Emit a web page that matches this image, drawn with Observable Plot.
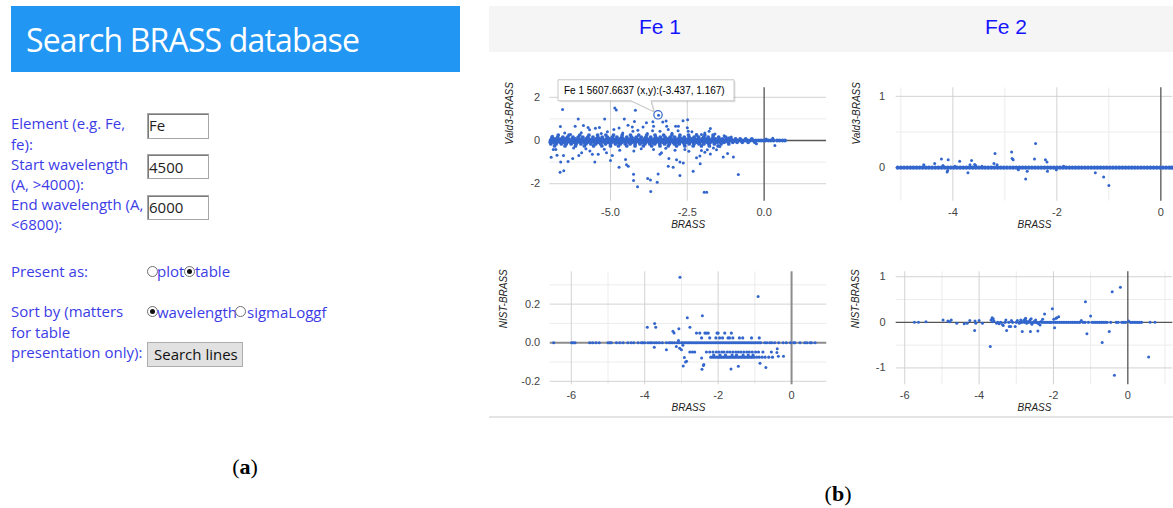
<!DOCTYPE html>
<html>
<head>
<meta charset="utf-8">
<script src="https://cdn.jsdelivr.net/npm/d3@7"></script>
<script src="https://cdn.jsdelivr.net/npm/@observablehq/plot@0.6"></script>
<style>
  html, body { margin:0; padding:0; background:#fff; }
  #page { position:relative; width:1173px; height:508px; overflow:hidden; font-family:"Open Sans","Noto Sans",sans-serif; }
  #page > div { position:absolute; }
  .banner { left:11px; top:6px; width:449px; height:66px; background:#2196f3; }
  .banner-title { left:26px; top:20.3px; font-size:32px; line-height:40px; color:#fff; white-space:nowrap; }
  .lbl { left:11px; font-size:15px; color:#3c3ce6; white-space:nowrap; }
  .inp { left:146.5px; width:60px; border:1px solid #a6a6a6; box-shadow: inset 1px 1px 0 #7a7a7a; background:#fff; }
  .val { font-size:15px; line-height:20px; color:#222; white-space:nowrap; }
  .radio { width:9px; height:9px; border:1px solid #6e6e6e; border-radius:50%; background:#fff; }
  .radio.on::after { content:""; position:absolute; left:2px; top:2px; width:5px; height:5px; border-radius:50%; background:#111; }
  .rtxt { font-size:15px; line-height:20px; color:#3c3ce6; white-space:nowrap; }
  .btn { left:146.5px; top:341.5px; width:94px; height:23px; background:#e1e1e1; border:1px solid #adadad; }
  .hdr { top:6px; left:489px; width:684px; height:46px; background:#f5f5f5; }
  .fe { top:15px; width:200px; text-align:center; font-family:"Liberation Sans",Arial,sans-serif; font-size:21px; line-height:24px; color:#1414ff; }
  .cap { font-family:"Liberation Serif",serif; font-size:22px; line-height:24px; width:60px; text-align:center; color:#000; }
  .rule { left:489px; top:416px; width:684px; height:2px; background:#e4e4e4; }
</style>
</head>
<body>
<div id="page">
  <div class="banner"></div>
  <div class="banner-title" id="title">Search BRASS database</div>

  <div class="lbl" style="top:113.3px;line-height:20.2px">Element (e.g. Fe,<br>fe):<br>Start wavelength<br>(A, &gt;4000):<br>End wavelength (A,<br>&lt;6800):</div>
  <div class="lbl" style="top:260.7px;line-height:20px">Present as:</div>
  <div class="lbl" style="top:301.3px;line-height:20.5px">Sort by (matters<br>for table<br>presentation only):</div>

  <div class="inp" style="top:113px;height:23.5px"></div>
  <div class="inp" style="top:154.3px;height:22.7px"></div>
  <div class="inp" style="top:195px;height:23px"></div>
  <div class="val" style="left:149px;top:115.2px">Fe</div>
  <div class="val" style="left:149px;top:156.5px">4500</div>
  <div class="val" style="left:149px;top:196.9px">6000</div>

  <div class="radio" style="left:146.5px;top:265.5px"></div>
  <div class="rtxt" style="left:157px;top:260.9px">plot</div>
  <div class="radio on" style="left:184px;top:265.5px"></div>
  <div class="rtxt" style="left:195px;top:260.9px">table</div>
  <div class="radio on" style="left:146.5px;top:306.2px"></div>
  <div class="rtxt" style="left:157px;top:301.5px">wavelength</div>
  <div class="radio" style="left:235.3px;top:306.2px"></div>
  <div class="rtxt" style="left:247px;top:301.5px">sigmaLoggf</div>

  <div class="btn"></div>
  <div class="val" style="left:154px;top:344.2px;color:#111">Search lines</div>

  <div class="cap" style="left:215px;top:454.8px">(<b>a</b>)</div>
  <div class="cap" style="left:808px;top:481.8px">(<b>b</b>)</div>

  <div class="hdr"></div>
  <div class="fe" style="left:560px">Fe 1</div>
  <div class="fe" style="left:906px">Fe 2</div>
  <div class="rule"></div>
</div>
<script>
// ================= DATA =================
// ---- Fe 1 : Vald3-BRASS against BRASS (scattered points, [BRASS, Vald3-BRASS])
const fe1ValdPoints = [
  [-6.56,1.44],[-4.86,1.51],[-4.81,1.41],[-4.19,1.40],[-3.437,1.167],
  [-6.05,0.99],[-5.19,0.99],[-4.55,0.99],[-4.22,0.88],[-3.83,0.82],[-3.62,0.87],[-3.19,0.9],[-2.64,0.92],[-2.49,0.96],
  [-3.60,0.66],[-3.30,0.86],[-3.17,0.66],[-2.88,0.66],[-2.79,0.66],
  [-6.63,0.65],[-6.15,0.66],[-5.88,0.69],[-5.73,0.60],[-5.68,0.50],[-5.49,0.57],[-5.36,0.60],[-5.10,0.40],[-4.89,0.51],
  [-4.72,0.58],[-4.43,0.71],[-4.29,0.62],[-3.94,0.62],[-4.27,0.43],[-4.11,0.47],[-3.63,0.45],[-3.39,0.43],[-3.12,0.51],
  [-2.80,0.45],[-6.89,0.20],[-6.49,0.35],[-6.30,0.28],
  [-2.5,0.59],[-2.47,0.43],[-1.75,0.56],[-1.79,0.43],[-2.04,0.28],[-2.2,0.28],[-1.93,0.35],[-1.14,0.13],[-1.07,0.16],
  [0.07,0.07],[0.28,0.1],[-5.95,0.36],[-5.3,0.33],[-4.6,0.35],[-3.8,0.33],[-3.0,0.34],[-2.35,0.4],[-1.6,0.3],[-1.3,0.22],
  [-6.86,-0.42],[-6.93,-0.77],[-6.78,-0.42],[-6.74,-0.68],[-6.53,-0.69],[-6.62,-1.0],[-6.38,-0.97],[-6.23,-0.83],
  [-6.03,-0.7],[-5.94,-0.57],[-5.67,-0.49],[-5.59,-0.64],[-5.51,-1.0],[-5.40,-0.64],[-5.13,-0.57],[-5.0,-0.93],
  [-4.94,-0.69],[-4.72,-1.24],[-4.51,-0.88],[-4.48,-1.12],[-4.42,-1.19],[-4.24,-0.49],[-4.25,-1.56],[-4.25,-1.85],
  [-4.12,-2.14],[-3.79,-1.76],[-3.70,-1.83],[-3.69,-2.36],[-3.45,-1.55],[-3.48,-1.93],[-3.39,-0.64],[-3.34,-0.57],
  [-3.10,-0.83],[-3.12,-1.19],[-2.96,-1.24],[-2.85,-0.89],[-2.74,-0.99],[-2.74,-1.62],[-2.63,-1.04],[-2.58,-0.42],
  [-6.64,-1.47],[-6.52,-1.40],[-2.31,-1.42],
  [-2.04,-0.46],[-1.93,-0.54],[-1.85,-0.43],[-1.75,-0.62],[-2.2,-0.80],[-2.09,-0.72],[-2.08,-1.08],[-1.95,-2.4],
  [-1.87,-2.4],[-1.33,-0.76],[-1.19,-0.6],[-1.0,-0.76],[-0.84,-1.57],[-1.55,-0.43],[-1.44,-0.28],[-0.25,-0.15],[0.35,-0.23],
  [-6.2,-0.35],[-5.8,-0.38],[-5.2,-0.4],[-4.7,-0.45],[-4.0,-0.38],[-3.6,-0.42],[-3.2,-0.36],[-2.9,-0.45],[-2.45,-0.5],[-1.65,-0.35]
];
// dense band of Fe 1 Vald3 points: BRASS values of each row, row offsets in fe1ValdBandY
const fe1ValdBandY = [0, 0.08, -0.08, 0.16, -0.16, 0.25, -0.25];
const fe1ValdBandRows = [
  [-6.95,-6.88,-6.8,-6.73,-6.65,-6.57,-6.5,-6.41,-6.34,-6.26,-6.19,-6.1,-6.03,-5.95,-5.88,-5.79,-5.72,-5.64,-5.56,-5.49,
   -5.41,-5.33,-5.25,-5.18,-5.1,-5.02,-4.95,-4.87,-4.79,-4.72,-4.64,-4.56,-4.48,-4.41,-4.33,-4.25,-4.18,-4.1,-4.02,-3.95,
   -3.87,-3.79,-3.71,-3.64,-3.56,-3.48,-3.41,-3.33,-3.25,-3.18,-3.1,-3.02,-2.94,-2.87,-2.79,-2.71,-2.64,-2.56,-2.48,-2.41,
   -2.33,-2.25,-2.17,-2.1,-2.02,-1.94,-1.87,-1.79,-1.71,-1.64,-1.56,-1.48,-1.4,-1.33,-1.25,-1.17,-1.1,-1.02,-0.94,-0.86,
   -0.78,-0.7,-0.62,-0.53,-0.45,-0.36,-0.27,-0.18,-0.1,-0.02,0.05,0.14,0.22,0.31,0.42,0.5,0.6,0.68],
  [-6.92,-6.81,-6.7,-6.6,-6.47,-6.37,-6.25,-6.14,-6.02,-5.93,-5.8,-5.7,-5.58,-5.47,-5.36,-5.25,-5.13,-5.03,-4.91,-4.8,
   -4.69,-4.58,-4.46,-4.36,-4.24,-4.13,-4.02,-3.9,-3.8,-3.68,-3.57,-3.46,-3.35,-3.24,-3.13,-3.01,-2.9,-2.79,-2.68,-2.57,
   -2.46,-2.35,-2.24,-2.13,-2.02,-1.91,-1.8,-1.69,-1.58,-1.46,-1.35,-1.22,-1.08,-0.93,-0.78,-0.6,-0.4],
  [-6.96,-6.85,-6.74,-6.63,-6.52,-6.41,-6.3,-6.19,-6.08,-5.97,-5.86,-5.75,-5.63,-5.52,-5.41,-5.3,-5.19,-5.08,-4.97,-4.86,
   -4.75,-4.63,-4.52,-4.41,-4.3,-4.19,-4.07,-3.96,-3.85,-3.74,-3.63,-3.52,-3.41,-3.3,-3.18,-3.07,-2.96,-2.85,-2.74,-2.63,
   -2.52,-2.41,-2.3,-2.19,-2.08,-1.97,-1.86,-1.75,-1.63,-1.52,-1.41,-1.3,-1.17,-1.02,-0.88,-0.71,-0.52,-0.3],
  [-6.9,-6.72,-6.55,-6.4,-6.22,-6.05,-5.9,-5.74,-5.57,-5.41,-5.27,-5.1,-4.94,-4.79,-4.63,-4.47,-4.31,-4.16,-4.0,-3.85,
   -3.69,-3.53,-3.38,-3.22,-3.06,-2.91,-2.75,-2.6,-2.44,-2.28,-2.13,-1.97,-1.82,-1.66,-1.48,-1.25],
  [-6.94,-6.77,-6.6,-6.44,-6.28,-6.12,-5.96,-5.8,-5.64,-5.48,-5.32,-5.16,-5.0,-4.84,-4.68,-4.52,-4.36,-4.2,-4.04,-3.88,
   -3.72,-3.56,-3.4,-3.24,-3.08,-2.92,-2.76,-2.6,-2.44,-2.28,-2.12,-1.96,-1.8,-1.62,-1.4,-1.15],
  [-6.7,-6.35,-6.0,-5.7,-5.42,-5.15,-4.9,-4.62,-4.35,-4.08,-3.82,-3.55,-3.27,-3.0,-2.74,-2.46,-2.2,-1.93,-1.66],
  [-6.82,-6.48,-6.14,-5.85,-5.55,-5.28,-5.0,-4.74,-4.47,-4.2,-3.93,-3.66,-3.39,-3.12,-2.85,-2.58,-2.31,-2.04,-1.78,-1.5]
];
const tooltipLine = {x:-3.437, y:1.167, text:"Fe 1 5607.6637 (x,y):(-3.437, 1.167)"};

// ---- Fe 2 : Vald3-BRASS against BRASS
const fe2ValdPoints = [
  [-4.56,0.04],[-4.35,0.06],[-4.22,0.12],[-4.19,0.03],[-4.09,0.11],[-4.1,-0.04],[-4.11,-0.06],[-3.96,0.02],[-3.87,0.09],
  [-3.71,-0.07],[-3.67,0.04],[-3.64,0.10],[-3.58,0.045],[-3.56,0.03],[-3.44,0.02],[-3.21,0.06],[-3.19,0.2],[-3.15,0.04],
  [-2.87,0.22],[-2.86,0.13],[-2.84,0.11],[-2.74,-0.03],[-2.6,-0.16],[-2.57,-0.05],[-2.43,0.12],[-2.41,0.34],[-2.22,0.11],
  [-2.19,0.08],[-2.18,-0.05],[-2.01,-0.03],[-1.87,0.02],[-1.26,-0.07],[-1.1,-0.13],[-1.0,-0.25]
];
const fe2ValdBand = [
  -5.06,-5.0,-4.94,-4.88,-4.82,-4.76,-4.7,-4.64,-4.58,-4.52,-4.46,-4.4,-4.34,-4.28,-4.22,-4.16,-4.1,-4.04,-3.98,-3.92,
  -3.86,-3.8,-3.74,-3.68,-3.62,-3.56,-3.5,-3.44,-3.38,-3.32,-3.26,-3.2,-3.14,-3.08,-3.02,-2.96,-2.9,-2.84,-2.78,-2.72,
  -2.66,-2.6,-2.54,-2.48,-2.42,-2.36,-2.3,-2.24,-2.18,-2.12,-2.06,-2.0,-1.94,-1.88,-1.82,-1.76,-1.7,-1.64,-1.58,-1.52,
  -1.46,-1.4,-1.34,-1.28,-1.22,-1.16,-1.1,-1.04,-0.98,-0.92,-0.86,-0.8,-0.74,-0.68,-0.62,-0.56,-0.5,-0.44,-0.38,-0.32,
  -0.26,-0.2,-0.14,-0.08,-0.02,0.04,0.1,0.16,0.21
];

// ---- Fe 1 : NIST-BRASS against BRASS
const fe1NistPoints = [
  [-3.04,0.339],[-0.91,0.24],[-3.93,0.08],[-3.73,0.10],[-3.70,0.08],[-3.23,0.059],[-3.2,0.05],[-3.07,0.073],[-2.84,0.13],
  [-2.43,0.14],[-2.77,0.08],[-3.74,-0.024],[-3.41,-0.037],[-3.14,-0.02],[-3.05,-0.028],[-3.0,-0.036],[-2.96,-0.013],
  [-2.92,-0.076],[-2.89,-0.10],[-2.95,-0.12],[-3.08,0.012],[-2.86,-0.096],[-2.45,-0.079],[-2.39,-0.113],[-2.44,-0.138],
  [-2.4,-0.118],[-0.86,-0.106],[-0.70,-0.128],[-1.65,-0.136],[-1.45,-0.122],[-0.39,-0.031],[-0.4,-0.05],[-0.36,-0.07],[-0.22,-0.07]
];
const fe1NistBandY = [0, -0.048, -0.075, -0.064, 0.025, 0.05];
const fe1NistBandRows = [
  [-6.48,-5.99,-5.95,-5.9,-5.5,-5.42,-5.33,-5.24,-5.0,-4.95,-4.91,-4.77,-4.68,-4.59,-4.46,-4.37,-4.3,-4.18,-4.09,-4.05,
   -4.0,-3.91,-3.85,-3.8,-3.73,-3.67,-3.6,-3.52,-3.41,-3.34,-3.3,-3.25,-3.19,-3.12,-3.07,-3.0,-2.96,-2.91,-2.87,-2.82,
   -2.78,-2.73,-2.68,-2.63,-2.58,-2.53,-2.48,-2.43,-2.38,-2.33,-2.28,-2.23,-2.18,-2.13,-2.08,-2.03,-1.98,-1.93,-1.88,-1.83,
   -1.78,-1.73,-1.68,-1.63,-1.58,-1.53,-1.48,-1.43,-1.38,-1.33,-1.28,-1.23,-1.18,-1.13,-1.08,-1.03,-0.98,-0.93,-0.88,-0.84,
   -0.73,-0.67,-0.59,-0.54,-0.46,-0.35,-0.23,-0.14,-0.03,0.06,0.09,0.23,0.36,0.42,0.51,0.54,0.64],
  [-2.77,-2.70,-2.64,-2.32,-2.23,-2.14,-2.05,-1.98,-1.9,-1.84,-1.75,-1.68,-1.6,-1.52,-1.45,-1.38,-1.3,-1.22,-1.15,-1.07,-0.98,-0.9,-0.78,-0.55],
  [-2.2,-2.15,-2.1,-2.05,-2.0,-1.96,-1.92,-1.87,-1.83,-1.78,-1.74,-1.7,-1.65,-1.61,-1.56,-1.52,-1.47,-1.43,-1.38,-1.34,
   -1.29,-1.25,-1.2,-1.16,-1.11,-1.07,-1.02,-0.95,-0.88,-0.8,-0.72,-0.62,-0.52],
  [-2.12,-1.95,-1.8,-1.62,-1.5,-1.32,-1.18,-1.05],
  [-2.45,-2.23,-2.06,-1.96,-1.88,-1.73,-1.69,-1.6,-1.42,-1.33,-1.09,-0.88],
  [-2.59,-2.5,-2.36,-2.32,-2.27,-2.03,-2.0,-1.82,-1.64]
];

// ---- Fe 2 : NIST-BRASS against BRASS
const fe2NistPoints = [
  [-5.74,0],[-5.63,0],[-5.43,0.01],[-4.97,0.05],[-4.84,0.03],[-4.79,0.01],[-4.75,0.05],[-4.6,-0.02],[-4.4,-0.03],
  [-4.32,-0.02],[-4.25,0.04],[-4.12,-0.18],[-4.11,0.03],[-4.09,-0.02],[-4.0,0.04],[-3.91,-0.02],[-3.70,-0.53],[-3.68,0.05],
  [-3.65,0.1],[-3.62,0.08],[-3.6,0.03],[-3.64,0.01],[-3.53,-0.02],[-3.46,-0.03],[-3.37,-0.05],[-3.35,-0.07],[-3.28,0.05],
  [-3.26,-0.18],[-3.19,-0.09],[-3.15,-0.09],[-3.13,0.04],[-3.03,-0.09],[-2.97,0.04],[-2.92,-0.02],[-2.88,0.05],[-2.84,-0.2],
  [-2.8,0.04],[-2.77,0.07],[-2.75,0.09],[-2.73,0.03],[-2.72,-0.02],[-2.62,-0.2],[-2.66,0.02],[-2.63,0.05],[-2.6,0.08],
  [-2.58,-0.04],[-2.42,-0.19],[-2.52,0.02],[-2.48,0.05],[-2.45,-0.01],[-2.24,0.18],[-2.4,-0.03],[-2.36,-0.06],[-2.33,0.02],
  [-2.29,0.07],[-2.03,0.3],[-1.97,-0.12],[-1.99,0.07],[-1.93,0.09],[-1.91,0.1],[-1.86,0.12],[-1.14,0.45],[-1.1,-0.25],
  [-1.0,0.14],[-0.69,-0.44],[-0.5,-0.2],[-0.42,0.67],[-0.20,0.77],[-0.36,-1.16],[0.56,-0.76],[0.6,0],[0.73,0],[-1.25,0.04],[0.02,0.03]
];
const fe2NistBand = [
  -3.5,-3.42,-3.3,-3.2,-3.1,-3.0,-2.9,-2.85,-2.78,-2.68,-2.62,-2.55,-2.5,-2.44,-2.38,-2.31,-2.25,-2.2,-2.15,-2.1,-2.06,-2.0,
  -1.95,-1.9,-1.84,-1.79,-1.74,-1.69,-1.64,-1.59,-1.54,-1.49,-1.44,-1.39,-1.34,-1.29,-1.2,-1.15,-1.06,-0.96,-0.91,-0.86,
  -0.81,-0.76,-0.71,-0.66,-0.61,-0.56,-0.46,-0.31,-0.26,-0.16,-0.11,-0.06,0.07,0.12,0.17,0.22,0.27,0.32,0.37
];

// ---- axes: domains, tick labels and grid lines
const fe1ValdX = {domain:[-6.975, 2.03], ticks:[-5, -2.5, 0], major:[-5, -2.5], minor:[]};
const fe1ValdY = {domain:[-2.81, 2.44], ticks:[-2, 0, 2], major:[-2, 2], minor:[-1, 1]};
const fe2ValdX = {domain:[-5.09, 0.23], ticks:[-4, -2, 0], major:[-4, -2], minor:[-5, -3, -1]};
const fe2ValdY = {domain:[-0.47, 1.12], ticks:[0, 1], major:[1], minor:[0.5]};
const fe1NistX = {domain:[-6.575, 0.96], ticks:[-6, -4, -2, 0], major:[-6, -4, -2], minor:[-5, -3, -1]};
const fe1NistY = {domain:[-0.218, 0.3675], ticks:[-0.2, 0, 0.2], major:[-0.2, 0.2], minor:[-0.1, 0.1, 0.3]};
const fe2NistX = {domain:[-6.23, 1.21], ticks:[-6, -4, -2, 0], major:[-6, -4, -2], minor:[-5, -3, -1, 1]};
const fe2NistY = {domain:[-1.37, 1.108], ticks:[-1, 0, 1], major:[-1, 1], minor:[-0.5, 0.5]};
const xTitle = "BRASS";

// ================= DRAWING =================
const DOT = "#3366cc";
const page = document.getElementById("page");
const rowsToPoints = (rows, ys) => rows.flatMap((row, i) => row.map(x => [x, ys[i]]));

function tipMark(t) {
  return (index, scales) => {
    const cx = scales.x(t.x), cy = scales.y(t.y);
    const g = d3.create("svg:g");
    const d = `M${cx-100},${cy-35}H${cx+76}V${cy-14}H${cx-7}L${cx-4},${cy-3}L${cx-27},${cy-14}H${cx-100}Z`;
    g.append("path").attr("d", d).attr("transform", "translate(1.5,1.5)").attr("fill", "rgba(0,0,0,0.12)");
    g.append("path").attr("d", d).attr("fill", "#fff").attr("stroke", "#c8c8c8");
    g.append("text").attr("x", cx-94).attr("y", cy-20.8).attr("fill", "#000").attr("text-anchor", "start")
      .attr("font-size", 10).attr("font-family", "Liberation Sans, Arial, sans-serif").text(t.text);
    g.append("circle").attr("cx", cx).attr("cy", cy).attr("r", 4.2).attr("fill", "none").attr("stroke", DOT).attr("stroke-width", 1.2);
    return g.node();
  };
}

function chart(c) {
  const [fl, ft, fr, fb] = c.frame;
  const {left, top, width, height} = c.box;
  const svg = Plot.plot({
    width, height,
    marginLeft: fl - left, marginTop: ft - top, marginRight: left + width - fr, marginBottom: top + height - fb,
    x: {domain: c.x.domain, ticks: c.x.ticks, tickFormat: c.xFmt, tickSize: 0, tickPadding: 6.5, label: null},
    y: {domain: c.y.domain, ticks: c.y.ticks, tickFormat: c.yFmt, tickSize: 0, tickPadding: c.yPad, label: null},
    style: {fontFamily: "Liberation Sans, Arial, sans-serif", fontSize: "11px", color: "#444", background: "transparent", overflow: "visible", maxWidth: "none"},
    marks: [
      Plot.ruleX(c.x.minor, {stroke: "#ececec"}),
      Plot.ruleY(c.y.minor, {stroke: "#ececec"}),
      Plot.ruleX(c.x.major, {stroke: "#d2d2d2"}),
      Plot.ruleY(c.y.major, {stroke: "#d2d2d2"}),
      Plot.ruleY([0], {stroke: c.zero, strokeWidth: c.zeroW}),
      Plot.ruleX([0], {stroke: c.zero, strokeWidth: c.zeroW}),
      Plot.dot(c.band, {x: d => d[0], y: d => d[1], r: c.bandR, fill: DOT}),
      Plot.dot(c.points, {x: d => d[0], y: d => d[1], r: 1.5, fill: DOT}),
      Plot.text([xTitle], {frameAnchor: "bottom", dy: c.xTitleDy, fontStyle: "italic", fontSize: 10, fill: "#222"}),
      Plot.text([c.yTitle], {frameAnchor: "left", dx: -c.yTitleDx, rotate: -90, fontStyle: "italic", fontSize: 10, fill: "#222"}),
      ...(c.extra || [])
    ]
  });
  const box = document.createElement("div");
  box.style.cssText = `left:${left}px;top:${top}px;width:${width}px;height:${height}px;overflow:visible;`;
  box.appendChild(svg);
  page.appendChild(box);
}

const f1 = d => d.toFixed(1), f0 = d => String(d);

chart({box:{left:489, top:60, width:341, height:180}, frame:[549.3, 87.3, 826, 200.7],
  x: fe1ValdX, y: fe1ValdY, xFmt: f1, yFmt: f0, yPad: 9.6, yTitle: "Vald3-BRASS", yTitleDx: 39.6, xTitleDy: 26.3,
  zero: "#555", zeroW: 1.3, points: fe1ValdPoints, band: rowsToPoints(fe1ValdBandRows, fe1ValdBandY), bandR: 1.9,
  extra: [tipMark(tooltipLine)]});

chart({box:{left:830, top:60, width:343, height:180}, frame:[895.7, 87.3, 1172.3, 200.7],
  x: fe2ValdX, y: fe2ValdY, xFmt: f0, yFmt: f0, yPad: 11, yTitle: "Vald3-BRASS", yTitleDx: 39, xTitleDy: 26.3,
  zero: "#555", zeroW: 1.3, points: fe2ValdPoints, band: fe2ValdBand.map(x => [x, 0]), bandR: 2.1});

chart({box:{left:489, top:245, width:341, height:170}, frame:[549.7, 271.3, 826.3, 384.3],
  x: fe1NistX, y: fe1NistY, xFmt: f0, yFmt: f1, yPad: 10, yTitle: "NIST-BRASS", yTitleDx: 46.5, xTitleDy: 25.7,
  zero: "#8c8c8c", zeroW: 2, points: fe1NistPoints, band: rowsToPoints(fe1NistBandRows, fe1NistBandY), bandR: 1.6});

chart({box:{left:830, top:245, width:343, height:170}, frame:[895.7, 271.3, 1172.3, 384.3],
  x: fe2NistX, y: fe2NistY, xFmt: f0, yFmt: f0, yPad: 10.7, yTitle: "NIST-BRASS", yTitleDx: 40.7, xTitleDy: 25.7,
  zero: "#555", zeroW: 1.3, points: fe2NistPoints, band: fe2NistBand.map(x => [x, 0]), bandR: 1.6});

// fit the banner title to its width in the screenshot
const title = document.getElementById("title");
const tw = title.getBoundingClientRect().width;
title.style.letterSpacing = ((334 - tw) / (title.textContent.length - 1)) + "px";
</script>
</body>
</html>
